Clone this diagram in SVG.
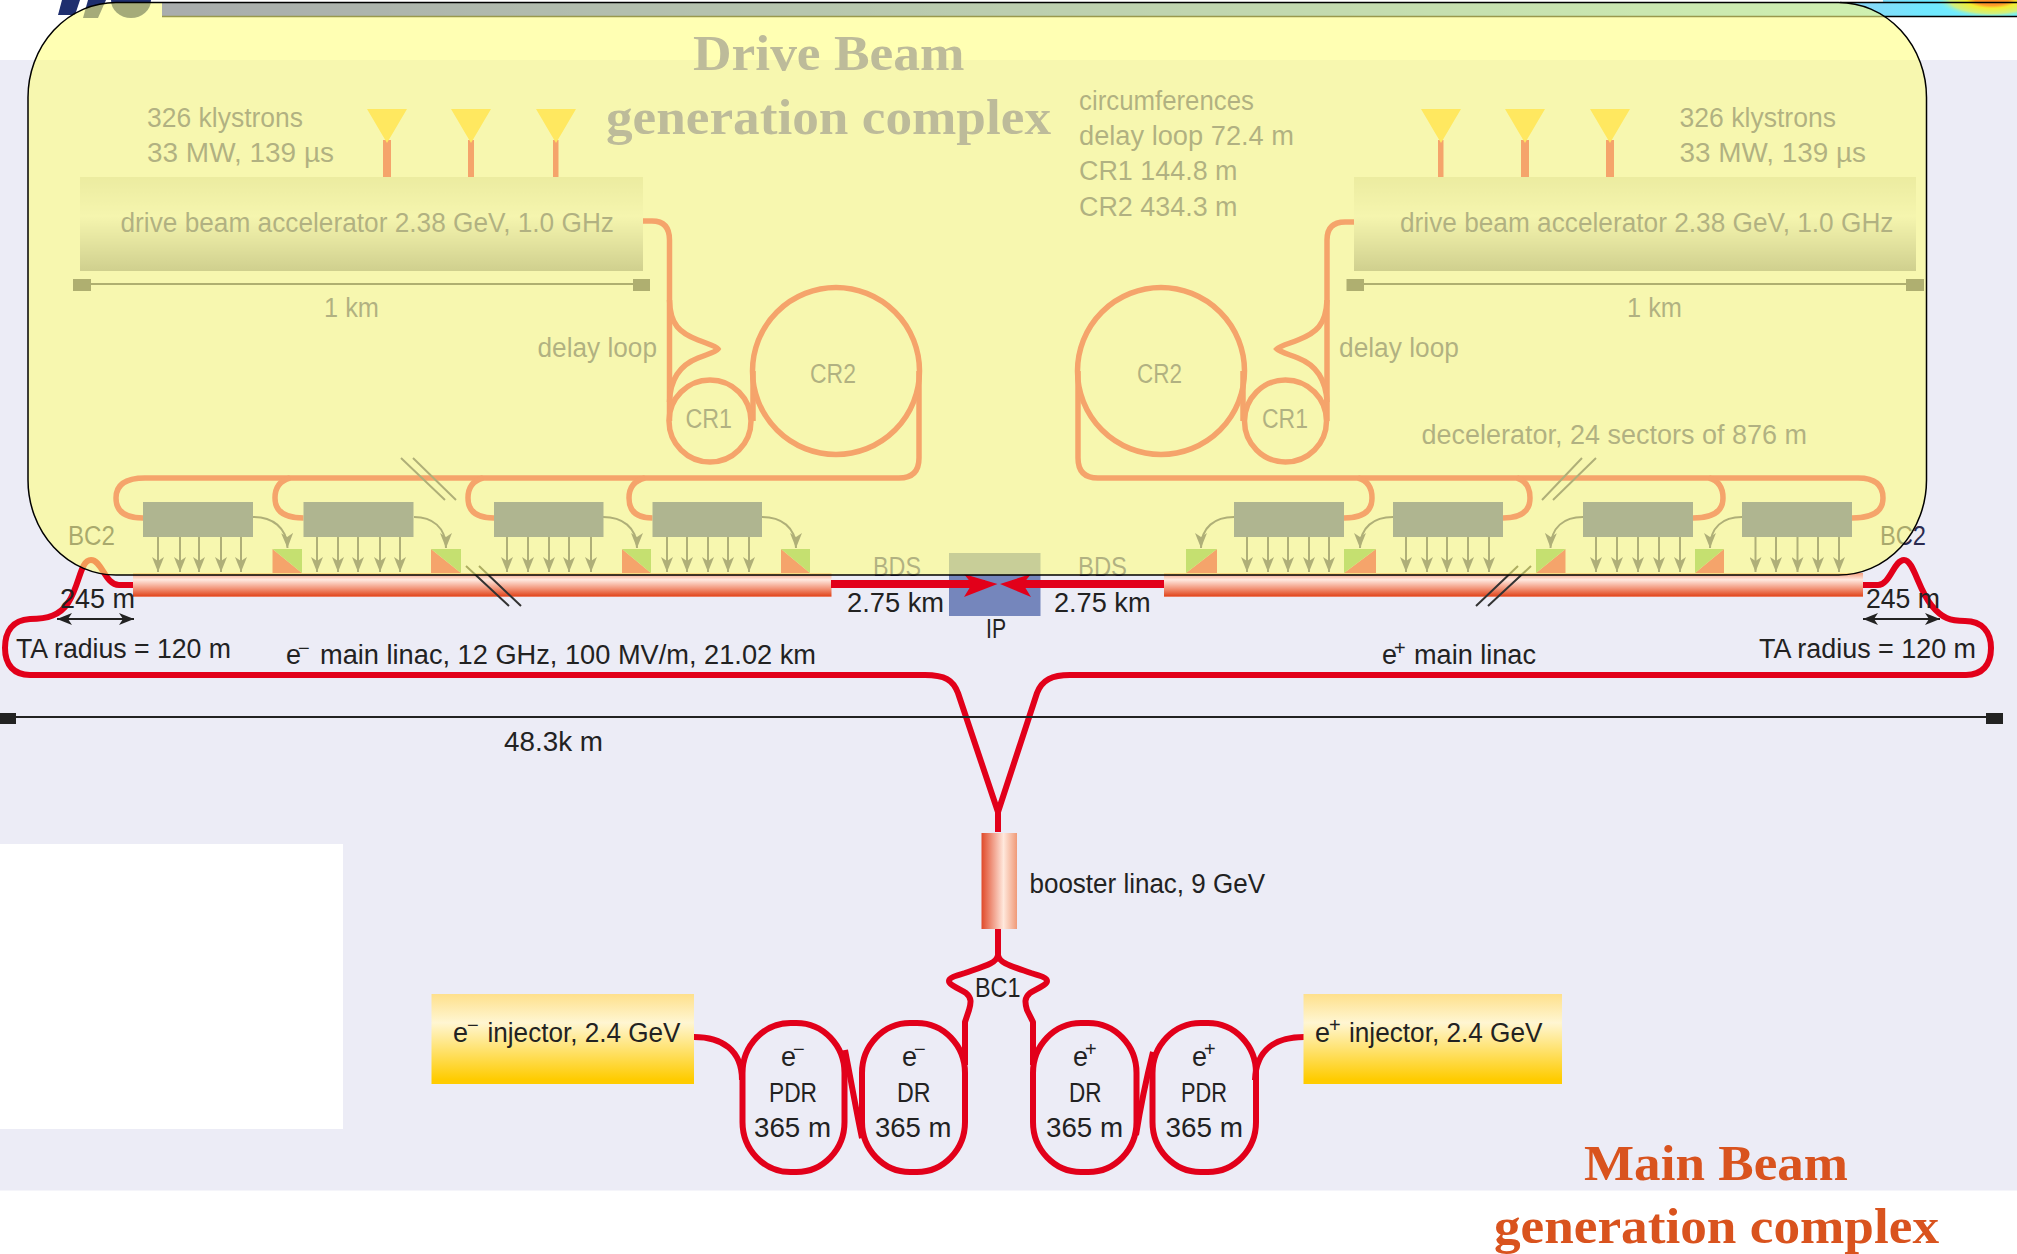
<svg xmlns="http://www.w3.org/2000/svg" width="2017" height="1254" viewBox="0 0 2017 1254">
<style>
text{font-family:"Liberation Sans",Arial,sans-serif;font-size:27px;fill:#222}
.o{fill:#3E3E84}
.ti{font-family:"Liberation Serif","Times New Roman",serif;font-weight:bold;font-size:50px}
.sup{font-size:20px}
.red{fill:none;stroke:#E2001A;stroke-width:6;stroke-linejoin:round}
.ora{fill:none;stroke:#E61C4B;stroke-width:5.5}
.dn{fill:none;stroke:#39396C;stroke-width:2;marker-end:url(#ah)}
.cv{fill:none;stroke:#39396C;stroke-width:2;marker-end:url(#ah)}
.sl{fill:none;stroke:#39396C;stroke-width:2}
.sld{fill:none;stroke:#333;stroke-width:2}
.box{fill:#3948A8}
.acc{fill:url(#accG)}
.inj{fill:url(#injG)}
.lin{fill:url(#linG)}
.mk{fill:#393958}
.gr{fill:#6EB158}
.or{fill:#E61C4B}
.yl{fill:#FFC530}
</style>
<defs>
<linearGradient id="accG" x1="0" y1="0" x2="0" y2="1"><stop offset="0" stop-color="#CFCFD0"/><stop offset=".42" stop-color="#E6E6F3"/><stop offset="1" stop-color="#8989A3"/></linearGradient>
<linearGradient id="injG" x1="0" y1="0" x2="0" y2="1"><stop offset="0" stop-color="#FEE08C"/><stop offset=".32" stop-color="#FFF6D2"/><stop offset=".95" stop-color="#FFCC00"/><stop offset="1" stop-color="#FFCC00"/></linearGradient>
<linearGradient id="linG" x1="0" y1="0" x2="0" y2="1"><stop offset="0" stop-color="#F5A080"/><stop offset=".28" stop-color="#FFE9E0"/><stop offset=".65" stop-color="#F29478"/><stop offset=".95" stop-color="#E24A22"/><stop offset="1" stop-color="#F0A090"/></linearGradient>
<linearGradient id="booG" x1="0" y1="0" x2="1" y2="0"><stop offset="0" stop-color="#E04A2A"/><stop offset=".62" stop-color="#FFE8DC"/><stop offset="1" stop-color="#F09A78"/></linearGradient>
<linearGradient id="barG" gradientUnits="userSpaceOnUse" x1="162" y1="0" x2="2017" y2="0"><stop offset="0" stop-color="#2832F0"/><stop offset=".92" stop-color="#87D9F8"/><stop offset=".95" stop-color="#70E8FF"/><stop offset="1" stop-color="#70F0FF"/></linearGradient>
<radialGradient id="blobG"><stop offset="0" stop-color="#FF8C2A"/><stop offset=".3" stop-color="#FF9A2A"/><stop offset=".45" stop-color="#F5EE30"/><stop offset=".75" stop-color="#D0F080"/><stop offset="1" stop-color="#70F0FF" stop-opacity="0"/></radialGradient>
<clipPath id="barClip"><rect x="162" y="0" width="1855" height="17"/></clipPath>
<marker id="ah" markerUnits="userSpaceOnUse" markerWidth="16" markerHeight="12" refX="15" refY="6" orient="auto"><path d="M0 0L15 6L0 12L4 6Z" fill="#39396C"/></marker>
<marker id="dbl" markerUnits="userSpaceOnUse" markerWidth="16" markerHeight="12" refX="15" refY="6" orient="auto-start-reverse"><path d="M0 0L15 6L0 12L4 6Z" fill="#222"/></marker>
</defs>

<g id="background">
<rect width="2017" height="1254" fill="#fff"/>
<rect y="60" width="2017" height="1130.500" fill="#ECECF6"/>
<rect y="844" width="343" height="285" fill="#fff"/>
</g>

<g id="header">
<path d="M62 0H80L75 15H58Z" fill="#1F2F6F"/>
<path d="M88 0H106L98 18H83Z" fill="#1F2F6F"/>
<ellipse cx="131" cy="0" rx="20" ry="18" fill="#1F2F6F"/>
<g clip-path="url(#barClip)">
<rect x="162" y="0" width="1855" height="17" fill="url(#barG)"/>
<rect x="162" y="0" width="1721" height="2" fill="#fff"/>
<ellipse cx="1992" cy="0" rx="56" ry="18" fill="url(#blobG)"/>
</g>
<path d="M162 16.500H2017" stroke="#000" stroke-width="1.500"/>
<path d="M1840 2.500H2017" stroke="#000" stroke-width="1.500"/>
</g>

<g id="connectors">
<g id="drive-beam-lines">
<path class="ora" d="M643 221H652Q669.500 221 669.500 240V421"/>
<path class="ora" d="M669.500 300C670 325 680 333 698 340C708 344 716 346 718 349C716 352 708 354 698 358C680 365 670 380 669.500 402"/>
<path class="ora" d="M753 371V421"/>
<path class="ora" d="M919 371V458Q919 478 899 478H145Q116 478 116 498Q116 518 143 518"/>
<path class="ora" d="M290 478Q275 482 275 498Q275 518 303.500 518"/>
<path class="ora" d="M483 478Q468 482 468 498Q468 518 494 518"/>
<path class="ora" d="M645 478Q629 482 629 498Q629 518 652.500 518"/>
<path class="ora" d="M1354 222H1345Q1327 222 1327 240V421"/>
<path class="ora" d="M1327 300C1326 325 1316 333 1298 340C1288 344 1280 346 1277 349C1280 352 1288 354 1298 358C1316 365 1326 380 1327 402"/>
<path class="ora" d="M1243 371V421"/>
<path class="ora" d="M1078 371V458Q1078 478 1098 478H1858Q1883 478 1883 498Q1883 518 1852 518"/>
<path class="ora" d="M1358 478Q1372 482 1372 498Q1372 518 1344 518"/>
<path class="ora" d="M1517 478Q1530 482 1530 498Q1530 518 1503 518"/>
<path class="ora" d="M1709 478Q1723 482 1723 498Q1723 518 1693 518"/>
<path class="sl" d="M401 458L445 500M413 458L456 500M1542 500L1582 458M1553 500L1596 458"/>
</g>
<g id="decel-arrows">
<path class="dn" d="M158 537V572"/><path class="dn" d="M180 537V572"/><path class="dn" d="M199 537V572"/><path class="dn" d="M221 537V572"/><path class="dn" d="M241 537V572"/>
<path class="dn" d="M317 537V572"/><path class="dn" d="M338 537V572"/><path class="dn" d="M358 537V572"/><path class="dn" d="M380 537V572"/><path class="dn" d="M400 537V572"/>
<path class="dn" d="M507 537V572"/><path class="dn" d="M528 537V572"/><path class="dn" d="M549 537V572"/><path class="dn" d="M569 537V572"/><path class="dn" d="M591 537V572"/>
<path class="dn" d="M667 537V572"/><path class="dn" d="M687 537V572"/><path class="dn" d="M708 537V572"/><path class="dn" d="M728 537V572"/><path class="dn" d="M749 537V572"/>
<path class="dn" d="M1247 537V572"/><path class="dn" d="M1268 537V572"/><path class="dn" d="M1288 537V572"/><path class="dn" d="M1309 537V572"/><path class="dn" d="M1329 537V572"/>
<path class="dn" d="M1406 537V572"/><path class="dn" d="M1427 537V572"/><path class="dn" d="M1447 537V572"/><path class="dn" d="M1468 537V572"/><path class="dn" d="M1489 537V572"/>
<path class="dn" d="M1596 537V572"/><path class="dn" d="M1617 537V572"/><path class="dn" d="M1638 537V572"/><path class="dn" d="M1659 537V572"/><path class="dn" d="M1680 537V572"/>
<path class="dn" d="M1755.500 537V572"/><path class="dn" d="M1776 537V572"/><path class="dn" d="M1797.500 537V572"/><path class="dn" d="M1818 537V572"/><path class="dn" d="M1839 537V572"/>
<path class="cv" d="M253 517C272 517 287 527 287.500 548"/>
<path class="cv" d="M414 517C432 517 446 527 446 548"/>
<path class="cv" d="M603 517C622 517 637 527 637 548"/>
<path class="cv" d="M762 517C781 517 796 527 796 548"/>
<path class="cv" d="M1234 517C1215 517 1201 527 1201 548"/>
<path class="cv" d="M1393 517C1374 517 1360 527 1360 548"/>
<path class="cv" d="M1583 517C1564 517 1551 527 1550.500 548"/>
<path class="cv" d="M1742 517C1723 517 1710 527 1710 548"/>
</g>
<g id="main-beam-lines">
<path class="red" d="M133 585H119C105 585 102 560 91 560C80 560 80 585 68 603C60 615 48 619 30 619C12 620 5 632 5 648C5 665 14 675 30 675H925C945 675 953 680 958 693L998 812V832"/>
<path class="red" d="M1863 585H1878C1890 585 1894 560 1904 560C1914 560 1918 590 1932 606C1942 618 1950 621 1965 621C1982 621 1991 632 1991 648C1991 665 1982 675 1966 675H1070C1052 675 1042 680 1037 693L998 812"/>
<path class="red" d="M998 929V955C997 963 985 966 965 973C955 976 949 978 949 981C949 985 958 988 966 993C972 998 971 1003 969 1010L965 1022V1065"/>
<path class="red" d="M998 955C999 963 1011 966 1031 973C1041 976 1047 978 1047 981C1047 985 1038 988 1030 993C1024 998 1025 1003 1027 1010L1033 1022V1065"/>
<path class="red" d="M694 1037C722 1037 742 1050 742 1080"/>
<path class="red" d="M845 1050C850 1075 857 1115 862 1138"/>
<path class="red" d="M1304 1037C1275 1037 1256 1050 1255 1080"/>
<path class="red" d="M1136 1135C1140 1110 1146 1080 1153 1052"/>
<path d="M57 619H134" stroke="#222" stroke-width="2" fill="none" marker-start="url(#dbl)" marker-end="url(#dbl)"/>
<path d="M1863 619H1940" stroke="#222" stroke-width="2" fill="none" marker-start="url(#dbl)" marker-end="url(#dbl)"/>
<path d="M16 717H1986" stroke="#222" stroke-width="2" fill="none"/>
</g>
</g>

<g id="linac-left"><rect class="lin" x="133" y="573" width="698.500" height="24"/></g>
<g id="linac-right"><rect class="lin" x="1164" y="573" width="699" height="24"/></g>
<g id="slashes-bottom"><path class="sld" d="M466 566L509 606M479 566L521 606M1476 606L1518 566M1488 606L1531 566"/></g>

<g id="ip">
<rect x="949" y="553" width="91.500" height="63" fill="#7586BC"/>
<path d="M831 584H985M1012 584H1164" stroke="#E2001A" stroke-width="8" fill="none"/>
<path d="M964 574L997.500 584L964 597L972 584Z" fill="#E2001A"/>
<path d="M1031 574L1000 584L1031 597L1023 584Z" fill="#E2001A"/>
<text x="986" y="638" textLength="20" lengthAdjust="spacingAndGlyphs">IP</text>
</g>

<g id="klystrons-left">
<rect class="or" x="383" y="140" width="8" height="37"/><rect class="or" x="468" y="140" width="6" height="37"/><rect class="or" x="553" y="140" width="5.500" height="37"/>
<path class="yl" d="M367 109H407L387 143ZM451 109H491L471 143ZM536 109H576L556 143Z"/>
<text class="o" x="147" y="127" textLength="156" lengthAdjust="spacingAndGlyphs">326 klystrons</text>
<text class="o" x="147" y="162" textLength="187" lengthAdjust="spacingAndGlyphs">33 MW, 139 µs</text>
</g>
<g id="klystrons-right">
<rect class="or" x="1438" y="140" width="5.500" height="37"/><rect class="or" x="1521" y="140" width="8" height="37"/><rect class="or" x="1606" y="140" width="8" height="37"/>
<path class="yl" d="M1421 109H1461L1441 143ZM1505 109H1545L1525 143ZM1590 109H1630L1610 143Z"/>
<text class="o" x="1679.500" y="127" textLength="156.500" lengthAdjust="spacingAndGlyphs">326 klystrons</text>
<text class="o" x="1679.500" y="162" textLength="186.500" lengthAdjust="spacingAndGlyphs">33 MW, 139 µs</text>
</g>
<g id="accelerator-left">
<rect class="acc" x="80" y="177" width="563" height="94"/>
<text class="o" x="120.500" y="232" textLength="493.500" lengthAdjust="spacingAndGlyphs">drive beam accelerator 2.38 GeV, 1.0 GHz</text>
<path d="M82 284H640" stroke="#393958" stroke-width="2"/><rect class="mk" x="73" y="279" width="18" height="12"/><rect class="mk" x="633" y="279" width="17" height="12"/>
<text class="o" x="324" y="317" textLength="55" lengthAdjust="spacingAndGlyphs">1 km</text>
</g>
<g id="accelerator-right">
<rect class="acc" x="1354" y="177" width="562" height="94"/>
<text class="o" x="1400" y="232" textLength="493.500" lengthAdjust="spacingAndGlyphs">drive beam accelerator 2.38 GeV, 1.0 GHz</text>
<path d="M1355 284H1915" stroke="#393958" stroke-width="2"/><rect class="mk" x="1346.500" y="279" width="17.500" height="12"/><rect class="mk" x="1906" y="279" width="18" height="12"/>
<text class="o" x="1627" y="317" textLength="55" lengthAdjust="spacingAndGlyphs">1 km</text>
</g>
<g id="rings-left">
<circle class="ora" cx="710" cy="421" r="41"/><circle class="ora" cx="836" cy="371" r="83.500"/>
<text class="o" x="810" y="383" textLength="46" lengthAdjust="spacingAndGlyphs">CR2</text>
<text class="o" x="685.500" y="428" textLength="46.500" lengthAdjust="spacingAndGlyphs">CR1</text>
<text class="o" x="537.500" y="357" textLength="119.500" lengthAdjust="spacingAndGlyphs">delay loop</text>
</g>
<g id="rings-right">
<circle class="ora" cx="1285.500" cy="421" r="41"/><circle class="ora" cx="1161" cy="371" r="83.500"/>
<text class="o" x="1137" y="383" textLength="45" lengthAdjust="spacingAndGlyphs">CR2</text>
<text class="o" x="1262" y="428" textLength="46" lengthAdjust="spacingAndGlyphs">CR1</text>
<text class="o" x="1339" y="357" textLength="120" lengthAdjust="spacingAndGlyphs">delay loop</text>
</g>
<g id="decelerators">
<rect class="box" x="143" y="502" width="110" height="35"/><rect class="box" x="303.500" y="502" width="110" height="35"/><rect class="box" x="494" y="502" width="109.500" height="35"/><rect class="box" x="652.500" y="502" width="109.500" height="35"/>
<rect class="box" x="1234" y="502" width="110" height="35"/><rect class="box" x="1393" y="502" width="110" height="35"/><rect class="box" x="1583" y="502" width="110" height="35"/><rect class="box" x="1742" y="502" width="110" height="35"/>
<path class="or" d="M272.500 549V573H302ZM431 549V573H461ZM622 549V573H651ZM781 549V573H810Z"/>
<path class="gr" d="M272.500 549H302V573ZM431 549H461V573ZM622 549H651V573ZM781 549H810V573Z"/>
<path class="or" d="M1217 549V573H1186ZM1376 549V573H1344ZM1565.500 549V573H1536ZM1724 549V573H1695Z"/>
<path class="gr" d="M1217 549H1186V573ZM1376 549H1344V573ZM1565.500 549H1536V573ZM1724 549H1695V573Z"/>
<text class="o" x="1421.500" y="444" textLength="385.500" lengthAdjust="spacingAndGlyphs">decelerator, 24 sectors of 876 m</text>
</g>
<g id="bds-labels">
<text class="o" x="873" y="576" textLength="48" lengthAdjust="spacingAndGlyphs">BDS</text>
<text class="o" x="1078" y="576" textLength="49" lengthAdjust="spacingAndGlyphs">BDS</text>
<text x="847" y="612" textLength="97" lengthAdjust="spacingAndGlyphs">2.75 km</text>
<text x="1054" y="612" textLength="96.500" lengthAdjust="spacingAndGlyphs">2.75 km</text>
</g>
<g id="circumferences">
<text class="o" x="1079" y="109.500" textLength="175" lengthAdjust="spacingAndGlyphs">circumferences</text>
<text class="o" x="1079" y="144.500" textLength="215" lengthAdjust="spacingAndGlyphs">delay loop 72.4 m</text>
<text class="o" x="1079" y="180" textLength="158.500" lengthAdjust="spacingAndGlyphs">CR1 144.8 m</text>
<text class="o" x="1079" y="216" textLength="158.500" lengthAdjust="spacingAndGlyphs">CR2 434.3 m</text>
</g>
<g id="drive-title">
<text class="ti" x="693" y="70" style="fill:#5A55C0" textLength="271.500" lengthAdjust="spacingAndGlyphs">Drive Beam</text>
<text class="ti" x="606" y="134" style="fill:#5A55C0" textLength="445" lengthAdjust="spacingAndGlyphs">generation complex</text>
</g>
<g id="bc2-labels">
<text x="68" y="545" style="fill:#2A2A50" textLength="47" lengthAdjust="spacingAndGlyphs">BC2</text>
<text x="1880" y="545" style="fill:#2A2A50" textLength="46" lengthAdjust="spacingAndGlyphs">BC2</text>
</g>

<g id="drive-overlay">
<rect x="28" y="2.500" width="1898.500" height="572.500" rx="88" ry="95" fill="#FFFF80" fill-opacity=".6" stroke="#000" stroke-width="1.500"/>
</g>

<g id="main-labels">
<text x="60" y="608" textLength="75" lengthAdjust="spacingAndGlyphs">245 m</text>
<text x="1866" y="608" textLength="74" lengthAdjust="spacingAndGlyphs">245 m</text>
<text x="16" y="658" textLength="215" lengthAdjust="spacingAndGlyphs">TA radius = 120 m</text>
<text x="1759" y="658" textLength="217" lengthAdjust="spacingAndGlyphs">TA radius = 120 m</text>
<text x="286" y="664">e<tspan class="sup" x="298" y="655">−</tspan><tspan x="320" y="664" textLength="496" lengthAdjust="spacingAndGlyphs">main linac, 12 GHz, 100 MV/m, 21.02 km</tspan></text>
<text x="1382" y="664">e<tspan class="sup" x="1394" y="655">+</tspan><tspan x="1414" y="664" textLength="122" lengthAdjust="spacingAndGlyphs">main linac</tspan></text>
<text x="504" y="751" textLength="99" lengthAdjust="spacingAndGlyphs">48.3k m</text>
</g>
<g id="scale-ends"><rect x="0" y="713" width="16" height="11" fill="#222"/><rect x="1986" y="713" width="17" height="11" fill="#222"/></g>

<g id="booster">
<rect x="981.500" y="833" width="35.500" height="96" fill="url(#booG)"/>
<text x="1029.500" y="893" textLength="235.500" lengthAdjust="spacingAndGlyphs">booster linac, 9 GeV</text>
</g>
<g id="bc1"><text x="975" y="997" textLength="45.500" lengthAdjust="spacingAndGlyphs">BC1</text></g>

<g id="injector-electron">
<rect class="inj" x="431.500" y="994" width="262.500" height="90"/>
<text x="453" y="1042">e<tspan class="sup" x="467" y="1032">−</tspan><tspan x="487.500" y="1042" textLength="193" lengthAdjust="spacingAndGlyphs">injector, 2.4 GeV</tspan></text>
</g>
<g id="injector-positron">
<rect class="inj" x="1303.500" y="994" width="258.500" height="90"/>
<text x="1315" y="1042">e<tspan class="sup" x="1329" y="1032">+</tspan><tspan x="1349" y="1042" textLength="193.500" lengthAdjust="spacingAndGlyphs">injector, 2.4 GeV</tspan></text>
</g>
<g id="pdr-electron">
<rect class="red" x="742.500" y="1023" width="102" height="149" rx="48" ry="50"/>
<text x="781" y="1066">e<tspan class="sup" x="793" y="1056">−</tspan></text>
<text x="769" y="1102" textLength="48" lengthAdjust="spacingAndGlyphs">PDR</text>
<text x="754" y="1137" textLength="77" lengthAdjust="spacingAndGlyphs">365 m</text>
</g>
<g id="dr-electron">
<rect class="red" x="862" y="1023" width="103" height="149" rx="48" ry="50"/>
<text x="902" y="1066">e<tspan class="sup" x="914" y="1056">−</tspan></text>
<text x="897" y="1102" textLength="33.500" lengthAdjust="spacingAndGlyphs">DR</text>
<text x="875" y="1137" textLength="76.500" lengthAdjust="spacingAndGlyphs">365 m</text>
</g>
<g id="dr-positron">
<rect class="red" x="1033" y="1023" width="103.500" height="149" rx="48" ry="50"/>
<text x="1073" y="1066">e<tspan class="sup" x="1085" y="1056">+</tspan></text>
<text x="1069" y="1102" textLength="32.500" lengthAdjust="spacingAndGlyphs">DR</text>
<text x="1046" y="1137" textLength="77" lengthAdjust="spacingAndGlyphs">365 m</text>
</g>
<g id="pdr-positron">
<rect class="red" x="1152.500" y="1023" width="103.500" height="149" rx="48" ry="50"/>
<text x="1192" y="1066">e<tspan class="sup" x="1204" y="1056">+</tspan></text>
<text x="1181" y="1102" textLength="46" lengthAdjust="spacingAndGlyphs">PDR</text>
<text x="1165.500" y="1137" textLength="77.500" lengthAdjust="spacingAndGlyphs">365 m</text>
</g>
<g id="main-title">
<text class="ti" x="1584" y="1180" style="fill:#D9531E" textLength="264" lengthAdjust="spacingAndGlyphs">Main Beam</text>
<text class="ti" x="1494" y="1243" style="fill:#D9531E" textLength="445" lengthAdjust="spacingAndGlyphs">generation complex</text>
</g>
</svg>
